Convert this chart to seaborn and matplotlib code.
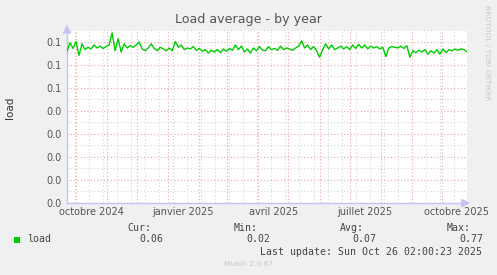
import matplotlib
matplotlib.use("Agg")
import matplotlib.pyplot as plt
import seaborn as sns
import pandas as pd
import numpy as np
import matplotlib.transforms as mtransforms

# ---------------- data ----------------
start_date = "2024-09-22 02:00"
end_date = "2025-10-26 02:00"
load_values = [
    0.0657, 0.0695, 0.0670, 0.0700, 0.0640, 0.0690, 0.0665, 0.0675, 0.0668, 0.0685,
    0.0672, 0.0680, 0.0670, 0.0678, 0.0685, 0.0738, 0.0660, 0.0712, 0.0655, 0.0690,
    0.0672, 0.0682, 0.0675, 0.0685, 0.0698, 0.0668, 0.0660, 0.0672, 0.0690, 0.0670,
    0.0660, 0.0675, 0.0668, 0.0660, 0.0672, 0.0660, 0.0700, 0.0675, 0.0685, 0.0665,
    0.0672, 0.0668, 0.0678, 0.0662, 0.0670, 0.0658, 0.0665, 0.0650, 0.0662, 0.0655,
    0.0665, 0.0652, 0.0668, 0.0658, 0.0670, 0.0662, 0.0685, 0.0665, 0.0680, 0.0655,
    0.0668, 0.0650, 0.0672, 0.0660, 0.0678, 0.0663, 0.0660, 0.0678, 0.0665, 0.0670,
    0.0662, 0.0680, 0.0665, 0.0672, 0.0668, 0.0662, 0.0672, 0.0680, 0.0702, 0.0672,
    0.0685, 0.0665, 0.0678, 0.0660, 0.0632, 0.0665, 0.0690, 0.0668, 0.0685, 0.0665,
    0.0672, 0.0680, 0.0668, 0.0678, 0.0665, 0.0685, 0.0670, 0.0688, 0.0672, 0.0685,
    0.0668, 0.0680, 0.0672, 0.0678, 0.0668, 0.0675, 0.0635, 0.0672, 0.0678, 0.0675,
    0.0672, 0.0680, 0.0670, 0.0682, 0.0632, 0.0660, 0.0652, 0.0662, 0.0655, 0.0665,
    0.0645, 0.0660, 0.0650, 0.0665, 0.0645, 0.0668, 0.0652, 0.0665, 0.0660, 0.0668,
    0.0662, 0.0668, 0.0665, 0.0655,
]
dates = pd.date_range(start_date, periods=len(load_values), freq="3D")

y_ticks = [0.0, 0.01, 0.02, 0.03, 0.04, 0.05, 0.06, 0.07]
y_tick_labels = ["0.0", "0.0", "0.0", "0.0", "0.0", "0.1", "0.1", "0.1"]
y_max = 0.0742
x_label_dates = ["2024-10-16", "2025-01-16", "2025-04-16", "2025-07-16", "2025-10-16"]
x_labels = ["octobre 2024", "janvier 2025", "avril 2025", "juillet 2025", "octobre 2025"]

legend_name = "load"
stat_heads = ["Cur:", "Min:", "Avg:", "Max:"]
stat_values = ["0.06", "0.02", "0.07", "0.77"]
last_update = "Last update: Sun Oct 26 02:00:23 2025"
title = "Load average - by year"

# ---------------- style ----------------
sns.set_style("white")
plt.rcParams["font.family"] = ["DejaVu Sans"]

W, H = 497, 275
fig = plt.figure(figsize=(W / 100, H / 100), dpi=100)
fig.patch.set_facecolor("#F0F0F0")
ax = fig.add_axes([67 / W, 1 - 203 / H, 400 / W, 173 / H])
ax.set_facecolor("white")

df = pd.DataFrame({"date": dates, "load": load_values})
sns.lineplot(data=df, x="date", y="load", color="#00CC00", lw=1.0, ax=ax, zorder=5)

ax.set_xlim(pd.Timestamp(start_date), pd.Timestamp(end_date))
ax.set_ylim(0, y_max)

# grid / ticks
month_starts = pd.date_range("2024-10-01", "2025-10-26", freq="MS")
biweekly = pd.date_range("2024-09-30", "2025-10-26", freq="14D")
ax.set_xticks(month_starts)
ax.set_xticklabels([""] * len(month_starts))
ax.set_xticks(biweekly, minor=True)
ax.set_yticks(y_ticks)
ax.set_yticklabels(y_tick_labels)
ax.set_yticks([v + 0.005 for v in y_ticks], minor=True)

red = "#E8A8A8"
gray = "#D4D4D4"
ax.grid(which="minor", color=gray, linestyle=(0, (1, 2)), lw=0.8, zorder=1)
ax.grid(which="major", color=red, linestyle=(0, (1, 2)), lw=0.8, zorder=2)
ax.tick_params(which="major", length=2, color="#E08080", labelsize=7,
               labelcolor="#555555", pad=2)
ax.tick_params(which="minor", length=0)

ax.set_xlabel("")
ax.set_ylabel("")

for s in ["top", "right"]:
    ax.spines[s].set_visible(False)
axis_col = "#C4C4F4"
for s in ["left", "bottom"]:
    ax.spines[s].set_color(axis_col)
    ax.spines[s].set_linewidth(1)

ax.annotate("", xy=(0, 1.048), xytext=(0, 0.98), xycoords="axes fraction",
            arrowprops=dict(arrowstyle="-|>,head_length=0.5,head_width=0.25",
                            color=axis_col, lw=1), annotation_clip=False)
ax.annotate("", xy=(1.015, 0), xytext=(0.99, 0), xycoords="axes fraction",
            arrowprops=dict(arrowstyle="-|>,head_length=0.5,head_width=0.25",
                            color=axis_col, lw=1), annotation_clip=False)

# x labels at mid-month
trans = mtransforms.blended_transform_factory(ax.transData, ax.transAxes)
for d, lab in zip(x_label_dates, x_labels):
    ax.text(pd.Timestamp(d), -0.05, lab, transform=trans, ha="center", va="center",
            fontsize=7, color="#555555")

def fx(px):
    return px / W

def fy(py):
    return 1 - py / H

fig.text(fx(248.7), fy(19.5), title, ha="center", va="center", fontsize=9.1, color="#555555")
fig.text(fx(10), fy(108), "load", ha="center", va="center", rotation=90, fontsize=7.5, color="#333333")
fig.text(fx(487), fy(53), "RRDTOOL / TOBI OETIKER", ha="center", va="center", rotation=270,
         fontsize=5.4, color="#C8C8C8")

mono = "DejaVu Sans Mono"
ms = 7.1
tc = "#444444"
head_x = [127.7, 233.7, 340, 446.7]
val_x = [139, 246, 352, 459.3]
for hx, h in zip(head_x, stat_heads):
    fig.text(fx(hx), fy(227.7), h, ha="left", va="center", family=mono, fontsize=ms, color=tc)
for vx, v in zip(val_x, stat_values):
    fig.text(fx(vx), fy(239.5), v, ha="left", va="center", family=mono, fontsize=ms, color=tc)
fig.patches.append(plt.Rectangle((fx(14), fy(242.7)), 6 / W, 5.5 / H, transform=fig.transFigure,
                                 facecolor="#00CC00", edgecolor="none"))
fig.text(fx(26.7), fy(239.5), legend_name, ha="left", va="center", family=mono, fontsize=ms, color=tc)
fig.text(fx(482.5), fy(251.7), last_update, ha="right", va="center", family=mono, fontsize=ms, color=tc)
fig.text(fx(248), fy(264), "Munin 2.0.67", ha="center", va="center", fontsize=5.4, color="#C8C8C8")

fig.savefig("out.png", dpi=100, facecolor=fig.get_facecolor())
